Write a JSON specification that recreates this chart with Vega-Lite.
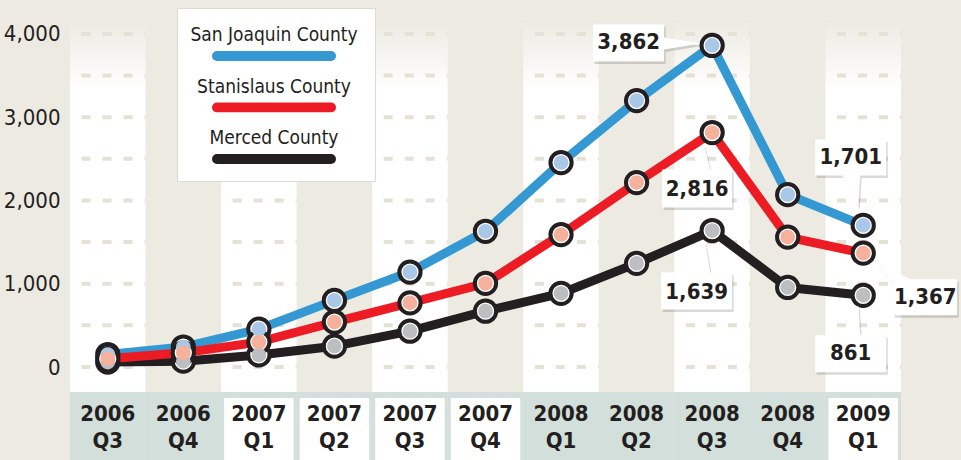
{
  "$schema": "https://vega.github.io/schema/vega-lite/v6.json",
  "width": 831,
  "height": 460,
  "autosize": {"type": "none"},
  "padding": {"left": 70, "top": 0, "right": 60, "bottom": 0},
  "background": "#edeae2",
  "config": {"view": {"stroke": null}, "font": "DejaVu Sans Condensed, Roboto, sans-serif"},
  "datasets": {
    "quarters": [
      {"quarter": "2006 Q3", "year": "2006", "q": "Q3"},
      {"quarter": "2006 Q4", "year": "2006", "q": "Q4"},
      {"quarter": "2007 Q1", "year": "2007", "q": "Q1"},
      {"quarter": "2007 Q2", "year": "2007", "q": "Q2"},
      {"quarter": "2007 Q3", "year": "2007", "q": "Q3"},
      {"quarter": "2007 Q4", "year": "2007", "q": "Q4"},
      {"quarter": "2008 Q1", "year": "2008", "q": "Q1"},
      {"quarter": "2008 Q2", "year": "2008", "q": "Q2"},
      {"quarter": "2008 Q3", "year": "2008", "q": "Q3"},
      {"quarter": "2008 Q4", "year": "2008", "q": "Q4"},
      {"quarter": "2009 Q1", "year": "2009", "q": "Q1"}
    ],
    "gridseg": [
      {"quarter": "2006 Q3", "g": [0, 500, 1000, 1500, 2000, 2500, 3000, 3500, 4000]},
      {"quarter": "2007 Q1", "g": [0, 500, 1000, 1500, 2000, 2500, 3000, 3500, 4000]},
      {"quarter": "2007 Q3", "g": [0, 500, 1000, 1500, 2000, 2500, 3000, 3500, 4000]},
      {"quarter": "2008 Q1", "g": [0, 500, 1000, 1500, 2000, 2500, 3000, 3500, 4000]},
      {"quarter": "2008 Q3", "g": [0, 500, 1000, 1500, 2000, 2500, 3000, 3500, 4000]},
      {"quarter": "2009 Q1", "g": [0, 500, 1000, 1500, 2000, 2500, 3000, 3500, 4000]}
    ],
    "sales": [
      {"county": "Merced County", "quarter": "2006 Q3", "value": 60},
      {"county": "Merced County", "quarter": "2006 Q4", "value": 70},
      {"county": "Merced County", "quarter": "2007 Q1", "value": 145},
      {"county": "Merced County", "quarter": "2007 Q2", "value": 250},
      {"county": "Merced County", "quarter": "2007 Q3", "value": 430},
      {"county": "Merced County", "quarter": "2007 Q4", "value": 670},
      {"county": "Merced County", "quarter": "2008 Q1", "value": 885},
      {"county": "Merced County", "quarter": "2008 Q2", "value": 1245},
      {"county": "Merced County", "quarter": "2008 Q3", "value": 1639},
      {"county": "Merced County", "quarter": "2008 Q4", "value": 955},
      {"county": "Merced County", "quarter": "2009 Q1", "value": 861},
      {"county": "San Joaquin County", "quarter": "2006 Q3", "value": 150},
      {"county": "San Joaquin County", "quarter": "2006 Q4", "value": 240},
      {"county": "San Joaquin County", "quarter": "2007 Q1", "value": 455},
      {"county": "San Joaquin County", "quarter": "2007 Q2", "value": 800},
      {"county": "San Joaquin County", "quarter": "2007 Q3", "value": 1140},
      {"county": "San Joaquin County", "quarter": "2007 Q4", "value": 1630},
      {"county": "San Joaquin County", "quarter": "2008 Q1", "value": 2455},
      {"county": "San Joaquin County", "quarter": "2008 Q2", "value": 3200},
      {"county": "San Joaquin County", "quarter": "2008 Q3", "value": 3862},
      {"county": "San Joaquin County", "quarter": "2008 Q4", "value": 2070},
      {"county": "San Joaquin County", "quarter": "2009 Q1", "value": 1701},
      {"county": "Stanislaus County", "quarter": "2006 Q3", "value": 100},
      {"county": "Stanislaus County", "quarter": "2006 Q4", "value": 170},
      {"county": "Stanislaus County", "quarter": "2007 Q1", "value": 300},
      {"county": "Stanislaus County", "quarter": "2007 Q2", "value": 540},
      {"county": "Stanislaus County", "quarter": "2007 Q3", "value": 770},
      {"county": "Stanislaus County", "quarter": "2007 Q4", "value": 1005},
      {"county": "Stanislaus County", "quarter": "2008 Q1", "value": 1590},
      {"county": "Stanislaus County", "quarter": "2008 Q2", "value": 2215},
      {"county": "Stanislaus County", "quarter": "2008 Q3", "value": 2816},
      {"county": "Stanislaus County", "quarter": "2008 Q4", "value": 1560},
      {"county": "Stanislaus County", "quarter": "2009 Q1", "value": 1367}
    ]
  },
  "layer": [
    {
      "data": {"name": "quarters"},
      "transform": [{"filter": {"field": "quarter", "oneOf": ["2006 Q3", "2007 Q1", "2007 Q3", "2008 Q1", "2008 Q3", "2009 Q1"]}}],
      "mark": {
        "type": "bar",
        "color": {"gradient": "linear", "x1": 0, "y1": 0, "x2": 0, "y2": 1,
          "stops": [{"offset": 0, "color": "#edeae2"}, {"offset": 0.19, "color": "#ffffff"}, {"offset": 1, "color": "#ffffff"}]}
      },
      "encoding": {
        "x": {"field": "quarter", "type": "ordinal",
          "scale": {"type": "band", "domain": ["2006 Q3", "2006 Q4", "2007 Q1", "2007 Q2", "2007 Q3", "2007 Q4", "2008 Q1", "2008 Q2", "2008 Q3", "2008 Q4", "2009 Q1"], "paddingInner": 0, "paddingOuter": 0},
          "axis": null},
        "y": {"datum": 4168, "type": "quantitative"},
        "y2": {"datum": -300}
      }
    },
    {
      "data": {"name": "gridseg"},
      "transform": [{"flatten": ["g"]}],
      "mark": {"type": "rule", "strokeDash": [9, 12], "strokeDashOffset": 9.5, "strokeWidth": 4, "color": "#e6e1d5", "xOffset": -37.75, "x2Offset": 37.75},
      "encoding": {
        "x": {"field": "quarter", "type": "ordinal"},
        "x2": {"field": "quarter"},
        "y": {"field": "g", "type": "quantitative"}
      }
    },
    {
      "data": {"name": "quarters"},
      "mark": {"type": "bar", "color": "#d3dfda"},
      "encoding": {
        "x": {"field": "quarter", "type": "ordinal"},
        "y": {"datum": -300, "type": "quantitative"},
        "y2": {"datum": -1117}
      }
    },
    {
      "data": {"name": "quarters"},
      "transform": [{"filter": {"field": "year", "oneOf": ["2007", "2009"]}}],
      "mark": {"type": "bar", "color": "#ffffff", "width": {"band": 0.92}},
      "encoding": {
        "x": {"field": "quarter", "type": "ordinal"},
        "y": {"datum": -372, "type": "quantitative"},
        "y2": {"datum": -1117}
      }
    },
    {
      "data": {"name": "quarters"},
      "mark": {"type": "text", "fontWeight": "bold", "fontSize": 22, "color": "#231f20", "baseline": "middle"},
      "encoding": {
        "x": {"field": "quarter", "type": "ordinal"},
        "y": {"datum": -561, "type": "quantitative"},
        "text": {"field": "year"}
      }
    },
    {
      "data": {"name": "quarters"},
      "mark": {"type": "text", "fontWeight": "bold", "fontSize": 22, "color": "#231f20", "baseline": "middle"},
      "encoding": {
        "x": {"field": "quarter", "type": "ordinal"},
        "y": {"datum": -889, "type": "quantitative"},
        "text": {"field": "q"}
      }
    },
    {
      "data": {"name": "sales"},
      "mark": {"type": "line", "strokeWidth": 9, "strokeCap": "round", "strokeJoin": "round"},
      "encoding": {
        "x": {"field": "quarter", "type": "ordinal"},
        "y": {"field": "value", "type": "quantitative",
          "scale": {"domain": [-1117, 4408], "nice": false, "zero": false},
          "axis": {"title": null, "values": [0, 500, 1000, 1500, 2000, 2500, 3000, 3500, 4000],
            "labelExpr": "datum.value % 1000 == 0 ? format(datum.value, ',') : ''",
            "domain": false, "ticks": false, "labelPadding": 10, "labelFontSize": 22,
            "labelColor": "#231f20",
            "gridColor": "#ffffff", "gridDash": [9, 12], "gridDashOffset": 9.5, "gridWidth": 4, "gridOpacity": 1}},
        "stroke": {"field": "county", "type": "nominal",
          "scale": {"domain": ["San Joaquin County", "Stanislaus County", "Merced County"], "range": ["#3498d3", "#ed1c24", "#231f20"]},
          "legend": {"title": null, "orient": "none", "legendX": 107, "legendY": 8, "direction": "vertical",
            "fillColor": "#ffffff", "strokeColor": "#dedad1", "padding": 17, "symbolType": "stroke", "symbolStrokeWidth": 10,
            "symbolSize": 12996, "symbolOffset": 18, "clipHeight": 36, "labelAlign": "center", "labelOffset": -62,
            "labelBaseline": "middle",
            "labelFontSize": 19, "labelColor": "#231f20", "rowPadding": 15.5, "labelLimit": 300,
            "encode": {"symbols": {"update": {"strokeCap": {"value": "round"}, "y": {"value": 31}}}, "labels": {"update": {"dy": {"value": -8}}}}}}
      }
    },
    {
      "data": {"name": "sales"},
      "mark": {"type": "circle", "size": 452, "fill": "#ffffff", "stroke": "#231f20", "strokeWidth": 4, "opacity": 1},
      "encoding": {
        "x": {"field": "quarter", "type": "ordinal"},
        "y": {"field": "value", "type": "quantitative"}
      }
    },
    {
      "data": {"name": "sales"},
      "mark": {"type": "circle", "size": 218, "opacity": 1},
      "encoding": {
        "x": {"field": "quarter", "type": "ordinal"},
        "y": {"field": "value", "type": "quantitative"},
        "fill": {"field": "county", "type": "nominal",
          "scale": {"domain": ["San Joaquin County", "Stanislaus County", "Merced County"], "range": ["#a9c8e8", "#f5b19b", "#bdbec1"]},
          "legend": null}
      }
    },
    {
      "data": {"name": "sales"},
      "transform": [{"filter": "datum.county == 'San Joaquin County' && datum.quarter == '2008 Q3'"}],
      "encoding": {
        "x": {"field": "quarter", "type": "ordinal"},
        "y": {"field": "value", "type": "quantitative"},
        "text": {"field": "value", "type": "quantitative", "format": ","}
      },
      "layer": [
        {"mark": {"type": "point", "shape": "M-119,-21H-48V-8L-12,-2L-48,4V16H-119Z", "size": 4, "filled": true, "fill": "#000000", "opacity": 0.15, "strokeWidth": 0, "xOffset": 1.5, "yOffset": 2.5}},
        {"mark": {"type": "point", "shape": "M-119,-21H-48V-8L-12,-2L-48,4V16H-119Z", "size": 4, "filled": true, "fill": "#ffffff", "opacity": 1, "strokeWidth": 0}},
        {"mark": {"type": "text", "fontWeight": "bold", "fontSize": 22, "color": "#231f20", "baseline": "middle", "align": "center", "dx": -83.5, "dy": -3}}
      ]
    },
    {
      "data": {"name": "sales"},
      "transform": [{"filter": "datum.county == 'Stanislaus County' && datum.quarter == '2008 Q3'"}],
      "encoding": {
        "x": {"field": "quarter", "type": "ordinal"},
        "y": {"field": "value", "type": "quantitative"},
        "text": {"field": "value", "type": "quantitative", "format": ","}
      },
      "layer": [
        {"mark": {"type": "point", "shape": "M-50,37H-22L-8,12L-2,37H20V75H-50Z", "size": 4, "filled": true, "fill": "#000000", "opacity": 0.15, "strokeWidth": 0, "xOffset": 1.5, "yOffset": 2.5}},
        {"mark": {"type": "point", "shape": "M-50,37H-22L-8,12L-2,37H20V75H-50Z", "size": 4, "filled": true, "fill": "#ffffff", "opacity": 1, "strokeWidth": 0}},
        {"mark": {"type": "text", "fontWeight": "bold", "fontSize": 22, "color": "#231f20", "baseline": "middle", "align": "center", "dx": -15, "dy": 56}}
      ]
    },
    {
      "data": {"name": "sales"},
      "transform": [{"filter": "datum.county == 'Merced County' && datum.quarter == '2008 Q3'"}],
      "encoding": {
        "x": {"field": "quarter", "type": "ordinal"},
        "y": {"field": "value", "type": "quantitative"},
        "text": {"field": "value", "type": "quantitative", "format": ","}
      },
      "layer": [
        {"mark": {"type": "point", "shape": "M-51,42H-21L-7,11L-2,42H20V79H-51Z", "size": 4, "filled": true, "fill": "#000000", "opacity": 0.15, "strokeWidth": 0, "xOffset": 1.5, "yOffset": 2.5}},
        {"mark": {"type": "point", "shape": "M-51,42H-21L-7,11L-2,42H20V79H-51Z", "size": 4, "filled": true, "fill": "#ffffff", "opacity": 1, "strokeWidth": 0}},
        {"mark": {"type": "text", "fontWeight": "bold", "fontSize": 22, "color": "#231f20", "baseline": "middle", "align": "center", "dx": -15.5, "dy": 61}}
      ]
    },
    {
      "data": {"name": "sales"},
      "transform": [{"filter": "datum.county == 'San Joaquin County' && datum.quarter == '2009 Q1'"}],
      "encoding": {
        "x": {"field": "quarter", "type": "ordinal"},
        "y": {"field": "value", "type": "quantitative"},
        "text": {"field": "value", "type": "quantitative", "format": ","}
      },
      "layer": [
        {"mark": {"type": "point", "shape": "M-48,-86H23V-50H-3L-5,-19L-21,-50H-48Z", "size": 4, "filled": true, "fill": "#000000", "opacity": 0.15, "strokeWidth": 0, "xOffset": 1.5, "yOffset": 2.5}},
        {"mark": {"type": "point", "shape": "M-48,-86H23V-50H-3L-5,-19L-21,-50H-48Z", "size": 4, "filled": true, "fill": "#ffffff", "opacity": 1, "strokeWidth": 0}},
        {"mark": {"type": "text", "fontWeight": "bold", "fontSize": 22, "color": "#231f20", "baseline": "middle", "align": "center", "dx": -12.5, "dy": -68}}
      ]
    },
    {
      "data": {"name": "sales"},
      "transform": [{"filter": "datum.county == 'Stanislaus County' && datum.quarter == '2009 Q1'"}],
      "encoding": {
        "x": {"field": "quarter", "type": "ordinal"},
        "y": {"field": "value", "type": "quantitative"},
        "text": {"field": "value", "type": "quantitative", "format": ","}
      },
      "layer": [
        {"mark": {"type": "point", "shape": "M47,26H94V62H30V33L14,9Z", "size": 4, "filled": true, "fill": "#000000", "opacity": 0.15, "strokeWidth": 0, "xOffset": 1.5, "yOffset": 2.5}},
        {"mark": {"type": "point", "shape": "M47,26H94V62H30V33L14,9Z", "size": 4, "filled": true, "fill": "#ffffff", "opacity": 1, "strokeWidth": 0}},
        {"mark": {"type": "text", "fontWeight": "bold", "fontSize": 22, "color": "#231f20", "baseline": "middle", "align": "center", "dx": 62, "dy": 44}}
      ]
    },
    {
      "data": {"name": "sales"},
      "transform": [{"filter": "datum.county == 'Merced County' && datum.quarter == '2009 Q1'"}],
      "encoding": {
        "x": {"field": "quarter", "type": "ordinal"},
        "y": {"field": "value", "type": "quantitative"},
        "text": {"field": "value", "type": "quantitative", "format": ","}
      },
      "layer": [
        {"mark": {"type": "point", "shape": "M-48,40H-20L-5,10L-3,40H23V77H-48Z", "size": 4, "filled": true, "fill": "#000000", "opacity": 0.15, "strokeWidth": 0, "xOffset": 1.5, "yOffset": 2.5}},
        {"mark": {"type": "point", "shape": "M-48,40H-20L-5,10L-3,40H23V77H-48Z", "size": 4, "filled": true, "fill": "#ffffff", "opacity": 1, "strokeWidth": 0}},
        {"mark": {"type": "text", "fontWeight": "bold", "fontSize": 22, "color": "#231f20", "baseline": "middle", "align": "center", "dx": -12.5, "dy": 58}}
      ]
    }
  ]
}
